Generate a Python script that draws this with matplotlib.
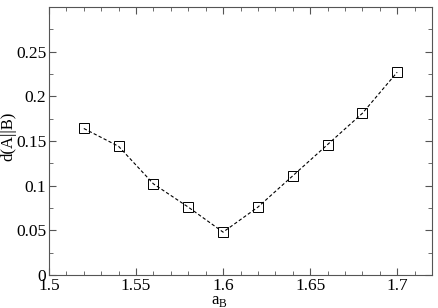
import numpy as np
import matplotlib
matplotlib.use('Agg')
import matplotlib.pyplot as plt
from matplotlib.ticker import MultipleLocator

a_B = [1.52, 1.54, 1.56, 1.58, 1.60, 1.62, 1.64, 1.66, 1.68, 1.70]
d_AB = [0.164, 0.144, 0.102, 0.076, 0.048, 0.076, 0.111, 0.146, 0.181, 0.227]

plt.rcParams['font.family'] = ['Liberation Serif', 'DejaVu Serif']
plt.rcParams['mathtext.fontset'] = 'custom'
plt.rcParams['mathtext.rm'] = 'Liberation Serif'

fig = plt.figure(figsize=(4.38, 3.08), dpi=100)
ax = fig.add_axes([49/438, 1-275/308, (432-49)/438, (275-7)/308])

ax.plot(a_B, d_AB, ls='--', color='black', lw=0.8, dashes=(3, 2),
        marker='s', markersize=6.5, markerfacecolor='none', markeredgecolor='black', markeredgewidth=0.7)

ax.set_xlim(1.5, 1.72)
ax.set_ylim(0, 0.3)
ax.xaxis.set_minor_locator(MultipleLocator(0.01))
ax.yaxis.set_minor_locator(MultipleLocator(0.025))
ax.set_yticks([0, 0.05, 0.1, 0.15, 0.2, 0.25])
ax.set_yticklabels(['0', '0.05', '0.1', '0.15', '0.2', '0.25'])
ax.set_xticks([1.5, 1.55, 1.6, 1.65, 1.7])
ax.set_xticklabels(['1.5', '1.55', '1.6', '1.65', '1.7'])
ax.tick_params(which='both', direction='in', top=True, right=True, labelsize=12.5, color='#555555')
ax.tick_params(which='major', length=5)
ax.tick_params(which='minor', length=3)
ax.tick_params(axis='x', pad=2)
ax.tick_params(axis='y', pad=2)
for s in ax.spines.values():
    s.set_color('#555555')
    s.set_linewidth(0.8)

ax.set_xlabel(r'a$_{\mathrm{B}}$', fontsize=12)
ax.set_ylabel('d(A||B)', fontsize=12)
# place axis labels by hand so they stay inside the figure
ax.xaxis.set_label_coords(0.5, 1 - 293/308, transform=fig.transFigure)
ax.yaxis.set_label_coords(8/438, 1 - 136/308, transform=fig.transFigure)
ax.yaxis.label.set_va('center')
ax.xaxis.label.set_va('top')

fig.savefig('out.png', dpi=100)
